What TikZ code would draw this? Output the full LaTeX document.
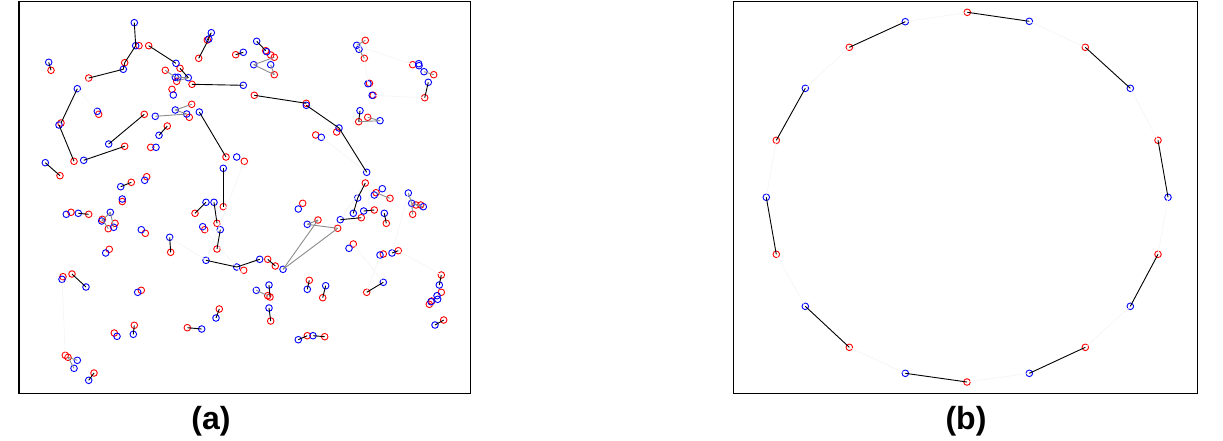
\documentclass[tikz,border=0pt]{standalone}
\usepackage{fontspec}
\setmainfont{Liberation Sans}
\begin{document}
\begin{tikzpicture}[x=1pt,y=-1pt,
  rc/.style={circle,draw=red,line width=0.9pt,minimum size=6.6pt,inner sep=0pt},
  bc/.style={circle,draw=blue,line width=0.9pt,minimum size=6.6pt,inner sep=0pt},
  blk/.style={black,line width=0.9pt},
  gry/.style={black!45,line width=0.9pt},
  fnt/.style={black!4,line width=0.6pt},
  frm/.style={draw=black,line width=1.3pt},
  lbl/.style={font=\bfseries\fontsize{32}{38}\selectfont,inner sep=0pt}]
\useasboundingbox (0,0) rectangle (1223,440);
\fill[white] (0,0) rectangle (1223,440);
% frames
\draw[frm] (19,1.5) rectangle (470.7,393.3);
\draw[frm] (733.3,1.5) rectangle (1197.3,393.3);
% ---------- panel (a): red points
\foreach \n/\x/\y in {p3/139/45.7,p4/148.7/45.7,p6/180/68.3,p7/124.7/62.7,p9/88.7/78,p11/51/70.3,
  p12/165.3/70.3,p15/176.7/81.3,p17/172/89.3,p20/61/123,p22/74/161.3,p24/98.7/114.3,p25/144.3/114.3,
  p29/191.7/104.3,p31/189.3/117.3,p32/167.3/126,p34/124.7/146.3,p36/150.7/147.3,p39/60/175.7,
  p40/146.7/176.7,p42/131.3/182.3,p44/122.3/201.5,
  q2/207.3/40,q3/198.7/58.3,q4/192/84.3,q6/235.7/54.7,q9/265.7/50.7,q11/270.7/55,q12/274.3/57.3,
  q15/274.3/74.7,q16/254.3/95.3,q17/306.3/103.3,q19/315.7/135,q22/226/157,q24/244.3/161.3,q26/223.3/206.7,
  s1/365.3/40.3,s4/364.3/58.3,s5/412.7/64.7,s9/433.7/74.7,s11/424.7/97.7,s13/369.5/83.3,s15/373.2/95.3,
  s17/358.7/121.7,s18/367.7/117.3,s21/336.7/132,s23/365.3/183,s26/376/192.7,s28/390/198.3,
  t2/71/212.3,t4/88.7/214.3,t6/102.3/219.3,t8/115/223.3,t10/108.3/228.7,t12/145.3/233.3,t14/170.7/252.3,
  t16/109.3/249.3,t17/72/274,t20/63/276.7,t22/141.3/290.3,t23/134.3/325.3,t25/114.3/333,t27/65.3/355.3,
  t28/68/357.3,t31/94/373,
  u2/195/213.3,u4/217/223.3,u6/204.7/229.7,u8/217/249,u10/302.7/203.3,u12/318/220,u16/243.7/270.3,
  u18/267.7/259.3,u19/275.3/266,u21/267.7/295.7,u23/270/297,u24/309.3/280.3,u27/322.7/297.7,
  u28/219.3/309,u31/270.7/321,u32/187.3/327.7,u35/307.3/335.7,u37/324.7/336.7,
  v5/416/205,v6/420.7/205,v8/412.7/214.3,v10/374.3/210,v12/386.3/223.3,v14/361.3/217.7,v15/337.7/228.3,
  v16/353.3/244,v19/383.3/254,v21/398.3/250.7,v23/366.7/292.3,v24/441.3/275,v26/441.3/292.3,
  v29/431.7/301,v31/429.3/304.3,v32/443.7/320}
  \node[rc] (\n) at (\x,\y) {};
% ---------- panel (a): blue points
\foreach \n/\x/\y in {p1/134.3/22.7,p2/135.7/45.7,p5/176/63.3,p8/123.3/69.3,p10/48.7/62.3,p13/175.3/77.3,
  p14/178/77.3,p16/188.3/77.7,p18/173.3/95,p19/77.3/88.7,p21/59/125,p23/97.3/111.3,p26/108.7/144,
  p27/155.3/116.3,p28/175.3/110,p30/186.7/114,p33/159/135.3,p35/83.7/160.3,p37/156/147.3,p38/45.3/162.7,
  p41/144.7/180.3,p43/120.7/186.7,p45/122.3/199,
  q1/211.3/32.7,q2b/208.8/39,q5/243.3/85.3,q7/243.3/52.3,q8/256.7/41.3,q10/266.7/51.7,q13/253.7/64.7,
  q14/270.7/64.7,q18/306.3/105.3,q20/321.3/137.3,q21/199.3/112,q23/236.7/157,q25/223.3/168.3,
  s2/356.7/45.3,s3/359/49.3,s6/418.7/63.7,s7/419/65.7,s8/424/71.7,s10/428.3/82.3,s12/368/83.7,
  s14/372.2/95.3,s16/360/110.7,s19/380/120.7,s20/339/128,s22/366.7/172.3,s24/357.7/198,s25/382.3/188.7,
  s27/374.3/195,s29/408.3/193,
  t1/66.3/214.3,t3/78.3/213.3,t5/110.3/212.3,t7/101.7/221,t9/113.7/227.3,t11/141.3/229.7,t13/169.7/237.3,
  t15/105.7/253,t18/86/287,t19/62/279.3,t21/137.7/292.3,t24/133.3/334.3,t26/117/336.3,t29/77.3/360.3,
  t30/74/368.3,t32/88.7/380.3,
  u1/206/202.3,u3/214/202.3,u5/202.7/226.7,u7/220.3/229.7,u9/298.3/209,u11/307.3/224.3,u13/283/269.3,
  u14/206/260.3,u15/236.7/267,u17/259.7/259.3,u20/256.3/290.3,u22/269/285,u25/307.3/289.3,
  u26/325.7/285.7,u29/216/318,u30/269/308,u33/201.7/329,u34/298.3/339.7,u36/313/335.7,
  v2/353.3/213.3,v4/411.7/203.3,v7/423.3/206.7,v9/363.7/211,v11/384.3/213.3,v13/340.3/219.7,
  v17/349/248.3,v18/380/255,v20/392/253,v22/383.3/282.3,v25/439.3/285,v27/437/295.7,v28/437.7/299.3,
  v30/431/301.7,v33/435/325}
  \node[bc] (\n) at (\x,\y) {};
% faint links
\foreach \a/\b in {s2/s5,s4/s12,s15/s11,u6/u20,p9/p21,p19/p23,t19/t27,s23/v13,v16/v22,v21/v24,
  q24/u14,q20/s22,t13/u14,v18/v23,s29/v20}
  \draw[fnt] (\a.center) -- (\b.center);
% gray links
\foreach \a/\b in {p12/p13,p27/p30,p28/p29,p28/p30,p14/p16,p15/p16,q13/q12,q13/q15,q14/q15,s1/s2,s3/s4,
  s8/s9,s17/s19,s18/s19,s26/s28,s29/v4,v4/v8,v4/v7,v5/v7,t5/t7,t5/t9,t6/t10,t28/t29,t28/t30,
  u12/u11,u12/u13,u13/v15,u11/v15,u20/u21}
  \draw[gry] (\a.center) -- (\b.center);
% black links
\foreach \a/\b in {p1/p2,p4/p5,p2/p7,p7/p8,p8/p9,p10/p11,p19/p20,p21/p22,p25/p26,p32/p33,p34/p35,
  p38/p39,p42/p43,p6/p16,q1/q2,q2b/q3,q4/q5,q6/q7,q8/q9,q16/q17,q18/s20,s20/s22,q21/q22,q25/q26,
  s10/s11,s16/s17,s23/s24,s24/v2,v9/v10,v11/v12,v13/v14,v20/v21,v22/v23,v24/v25,v32/v33,
  t3/t4,t13/t14,t17/t18,t23/t24,t31/t32,u1/u2,u3/u4,u7/u8,u14/u15,u15/u17,u18/u19,u22/u23,u24/u25,
  u26/u27,u28/u29,u30/u31,u32/u33,u34/u35,u36/u37}
  \draw[blk] (\a.center) -- (\b.center);
% ---------- panel (b)
\foreach \n/\x/\y in {b1/967.3/12.3,b3/1085.3/47.3,b5/1158/140.3,b7/1158/254.3,b9/1085.3/347.3,
  b11/967/382,b13/849.3/347.3,b15/776.3/254.3,b17/776.3/140.3,b19/849.3/47.3}
  \node[rc] (\n) at (\x,\y) {};
\foreach \n/\x/\y in {b2/1029.3/21.3,b4/1130.3/88.3,b6/1168/197.3,b8/1130.3/306.3,b10/1029.3/373.3,
  b12/905.3/373.3,b14/805.3/306.3,b16/766.3/197.3,b18/805.3/88.3,b20/905.3/21.7}
  \node[bc] (\n) at (\x,\y) {};
\foreach \a/\b in {b2/b3,b4/b5,b6/b7,b8/b9,b10/b11,b12/b13,b14/b15,b16/b17,b18/b19,b20/b1}
  \draw[fnt] (\a.center) -- (\b.center);
\foreach \a/\b in {b1/b2,b3/b4,b5/b6,b7/b8,b9/b10,b11/b12,b13/b14,b15/b16,b17/b18,b19/b20}
  \draw[blk] (\a.center) -- (\b.center);
% labels
\node[lbl] (la) at (211,421) {(a)};
\node[lbl] (lb) at (966,421) {(b)};
\end{tikzpicture}
\end{document}
